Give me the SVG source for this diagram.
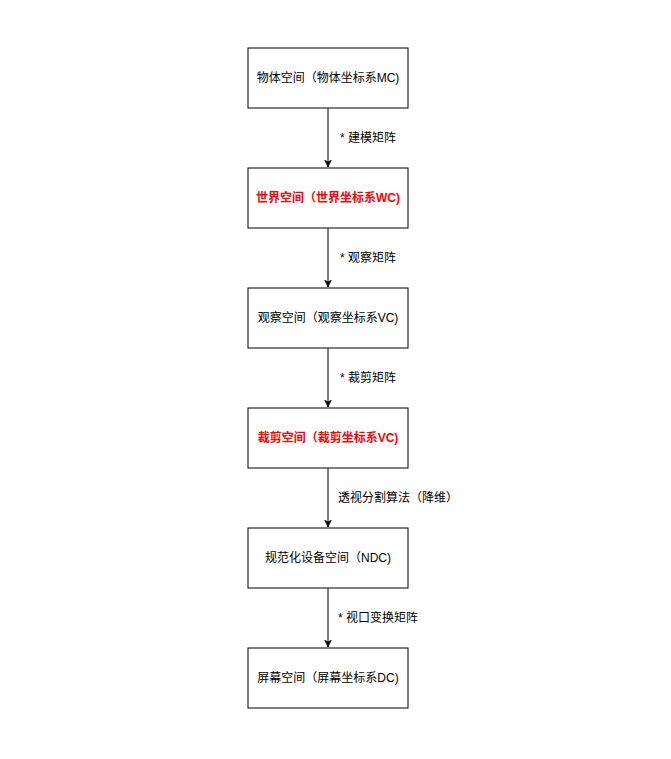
<svg xmlns="http://www.w3.org/2000/svg" width="671" height="759" viewBox="0 0 671 759">
<defs>
<style>
.box{fill:#fff;stroke:#000;stroke-width:1}
.t{font-family:"Liberation Sans","Noto Sans CJK SC",sans-serif;font-size:12px;fill:#000;text-anchor:middle;dominant-baseline:central}
.r{fill:#ff0000;font-weight:bold}
.l{font-family:"Liberation Sans","Noto Sans CJK SC",sans-serif;font-size:12px;fill:#000;dominant-baseline:central}
.e{stroke:#000;stroke-width:1;fill:none;marker-end:url(#a)}
</style>
<marker id="a" markerWidth="8" markerHeight="8" refX="7" refY="4" orient="auto" markerUnits="userSpaceOnUse">
<path d="M0,0.5 L7,4 L0,7.5 L2,4 Z" fill="#000" stroke="#000" stroke-width="0.5"/>
</marker>
</defs>
<rect width="671" height="759" fill="#fff"/>
<g id="connectors">
<path class="e" d="M328,108 V167"/>
<text class="l" x="340" y="138">* 建模矩阵</text>
<path class="e" d="M328,228 V287"/>
<text class="l" x="340" y="258">* 观察矩阵</text>
<path class="e" d="M328,348 V407"/>
<text class="l" x="340" y="378">* 裁剪矩阵</text>
<path class="e" d="M328,468 V527"/>
<text class="l" x="338" y="498">透视分割算法（降维）</text>
<path class="e" d="M328,588 V647"/>
<text class="l" x="338" y="618">* 视口变换矩阵</text>
</g>
<g id="n1"><rect class="box" x="248" y="48" width="160" height="60"/><text class="t" x="328" y="78">物体空间（物体坐标系MC)</text></g>
<g id="n2"><rect class="box" x="248" y="168" width="160" height="60"/><text class="t r" x="328" y="198">世界空间（世界坐标系WC)</text></g>
<g id="n3"><rect class="box" x="248" y="288" width="160" height="60"/><text class="t" x="328" y="318">观察空间（观察坐标系VC)</text></g>
<g id="n4"><rect class="box" x="248" y="408" width="160" height="60"/><text class="t r" x="328" y="438">裁剪空间（裁剪坐标系VC)</text></g>
<g id="n5"><rect class="box" x="248" y="528" width="160" height="60"/><text class="t" x="328" y="558">规范化设备空间（NDC)</text></g>
<g id="n6"><rect class="box" x="248" y="648" width="160" height="60"/><text class="t" x="328" y="678">屏幕空间（屏幕坐标系DC)</text></g>
</svg>
